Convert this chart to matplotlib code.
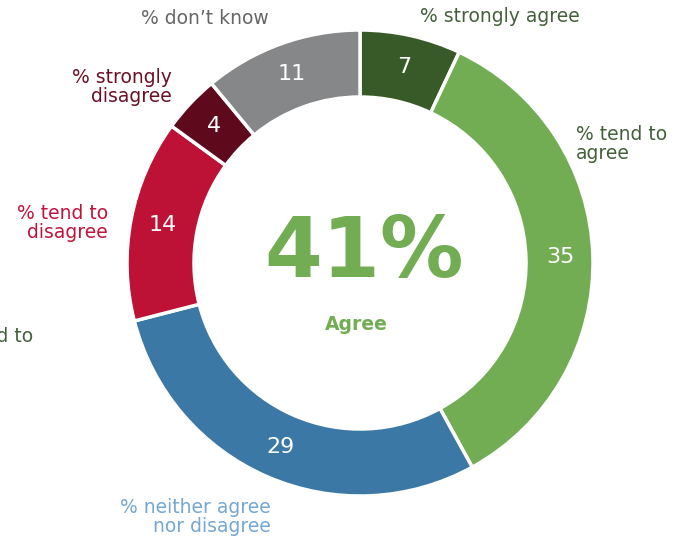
import numpy as np
import matplotlib.pyplot as plt

# survey shares, clockwise from 12 o'clock
categories = ["% strongly agree", "% tend to\nagree", "% neither agree\nnor disagree",
              "% tend to\ndisagree", "% strongly\ndisagree", "% don\u2019t know"]
values = [7, 35, 29, 14, 4, 11]
colors = ["#385a28", "#72ad54", "#3b78a5", "#bd1235", "#5e0a1c", "#868788"]
label_colors = ["#44603a", "#44603a", "#74a7d2", "#c0143c", "#6b1025", "#666666"]

# headline figure (rounded from the unrounded shares)
agree_pct = 41

plt.rcParams['font.family'] = ['DejaVu Sans']
fig = plt.figure(figsize=(6.8, 5.37), dpi=100)
ax = fig.add_axes([0, 0, 1, 1])

cx, cy, R = 360, 274, 233
wedges, _ = ax.pie(values, colors=colors, startangle=90, counterclock=False,
                   center=(cx, cy), radius=R, frame=True,
                   wedgeprops=dict(width=67, edgecolor='white', linewidth=2.5))
ax.set_xlim(0, 680)
ax.set_ylim(0, 537)
ax.set_aspect('equal')
ax.axis('off')

# value labels at the middle of each ring segment
for w, v in zip(wedges, values):
    mid = np.deg2rad((w.theta1 + w.theta2) / 2)
    r = R * 0.86
    ax.text(cx + r * np.cos(mid), cy + r * np.sin(mid), str(v),
            ha='center', va='center', color='white', fontsize=16)

# category labels around the ring
label_pos = [(500, 520, 'center'), (576, 393, 'left'), (271, 20, 'right'),
             (108, 314, 'right'), (172, 450, 'right'), (205, 518, 'center')]
for (x, y, ha), txt, c in zip(label_pos, categories, label_colors):
    ax.text(x, y, txt, ha=ha, va='center', color=c, fontsize=13.5,
            linespacing=1.05)

# clipped label at the left edge
ax.text(33, 200, "% tend to", ha='right', va='center', color="#44603a",
        fontsize=13.5)

ax.text(364, 284, f"{agree_pct}%", ha='center', va='center',
        color="#72ad54", fontsize=60, fontweight='bold')
ax.text(356, 212, "Agree", ha='center', va='center', color="#72ad54",
        fontsize=13.5, fontweight='bold')

fig.savefig("out.png", dpi=100)
